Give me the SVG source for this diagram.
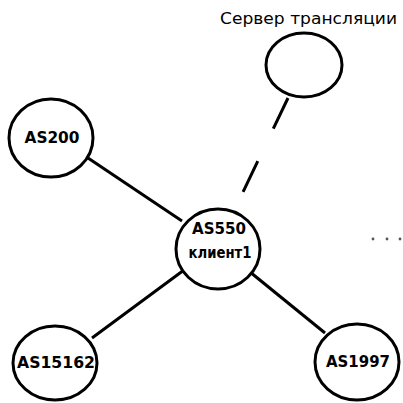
<svg xmlns="http://www.w3.org/2000/svg" width="403" height="403" viewBox="0 0 403 403">
  <style>
    .node { fill: #ffffff; stroke: #000000; stroke-width: 3; }
    .edge { stroke: #000000; stroke-width: 3; fill: none; }
    .label { font-family: "DejaVu Sans", "Liberation Sans", sans-serif; font-weight: bold; font-size: 15px; fill: #000000; text-anchor: middle; }
    .caption { font-family: "DejaVu Sans", "Liberation Sans", sans-serif; font-size: 16.5px; fill: #000000; }
    .dot { fill: #555555; }
  </style>
  <rect width="403" height="403" fill="#ffffff"/>

  <g id="connectors">
    <line class="edge" x1="88" y1="158" x2="182" y2="221"/>
    <line class="edge" x1="184" y1="270" x2="92" y2="338"/>
    <line class="edge" x1="250" y1="272" x2="325" y2="333"/>
    <line class="edge" x1="288" y1="98" x2="243" y2="192" stroke-dasharray="34 36"/>
  </g>

  <g id="server">
    <ellipse class="node" cx="304" cy="65" rx="38" ry="32"/>
    <text class="caption" x="220" y="24" textLength="177" lengthAdjust="spacingAndGlyphs">Сервер трансляции</text>
  </g>

  <g id="as200">
    <ellipse class="node" cx="51" cy="138" rx="42" ry="39"/>
    <text class="label" x="52" y="143" textLength="55" lengthAdjust="spacingAndGlyphs">AS200</text>
  </g>

  <g id="as550">
    <ellipse class="node" cx="218" cy="249" rx="42" ry="40"/>
    <text class="label" x="219" y="234" textLength="54" lengthAdjust="spacingAndGlyphs">AS550</text>
    <text class="label" x="220" y="258" textLength="63" lengthAdjust="spacingAndGlyphs">клиент1</text>
  </g>

  <g id="as15162">
    <ellipse class="node" cx="55" cy="363" rx="42" ry="37"/>
    <text class="label" x="56" y="368" textLength="78" lengthAdjust="spacingAndGlyphs">AS15162</text>
  </g>

  <g id="as1997">
    <ellipse class="node" cx="357" cy="362" rx="42" ry="38"/>
    <text class="label" x="358" y="367" textLength="64" lengthAdjust="spacingAndGlyphs">AS1997</text>
  </g>

  <g id="more">
    <circle class="dot" cx="373" cy="239" r="1.4"/>
    <circle class="dot" cx="387" cy="239" r="1.4"/>
    <circle class="dot" cx="400" cy="239" r="1.4"/>
  </g>
</svg>
